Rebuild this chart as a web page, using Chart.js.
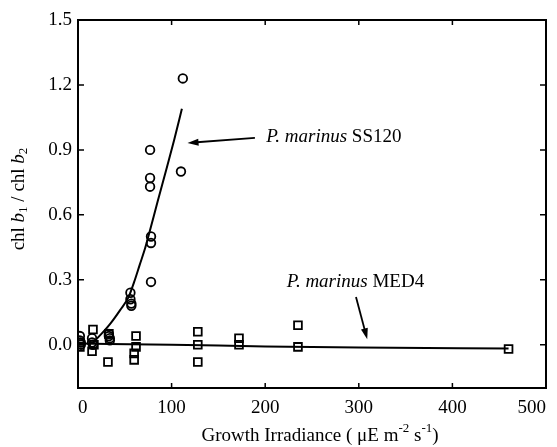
<!DOCTYPE html>
<html>
<head>
<meta charset="utf-8">
<script src="https://cdn.jsdelivr.net/npm/chart.js@4/dist/chart.umd.min.js"></script>
<style>
  html, body { margin: 0; padding: 0; background: #fff; }
  #wrap { width: 557px; height: 447px; }
</style>
</head>
<body>
<div id="wrap"><canvas id="chart" width="557" height="447"></canvas></div>
<script>
// ===== Data =====
// P. marinus SS120 measurements (circles)
const ss120X = [2, 2, 3, 3, 15, 15, 16, 33, 33, 34, 34, 56, 56, 57, 57, 77, 77, 77, 78, 78, 78, 110, 112];
const ss120Y = [0.04, 0.02, 0.01, 0.0, 0.03, 0.01, 0.0, 0.05, 0.04, 0.03, 0.02, 0.24, 0.21, 0.19, 0.18, 0.90, 0.77, 0.73, 0.50, 0.47, 0.29, 0.80, 1.23];

// P. marinus MED4 measurements (squares)
const med4X = [2, 2, 16, 15, 17, 33, 32, 62, 62, 60, 60, 128, 128, 128, 172, 172, 235, 235, 460];
const med4Y = [0.01, -0.01, 0.07, -0.03, 0.0, 0.05, -0.08, 0.04, -0.01, -0.04, -0.07, 0.06, 0.0, -0.08, 0.03, 0.0, 0.09, -0.01, -0.02];

// fitted curves
const ss120FitX = [16, 25, 35, 45, 54, 60, 66, 72, 77, 85, 95, 103, 111];
const ss120FitY = [0.01, 0.05, 0.10, 0.16, 0.22, 0.29, 0.37, 0.45, 0.53, 0.66, 0.82, 0.95, 1.09];
const med4FitX = [0, 100, 200, 300, 460];
const med4FitY = [0.005, 0.0, -0.008, -0.013, -0.018];

// axes
const xTicks = [0, 100, 200, 300, 400, 500];
const yTicks = [0.0, 0.3, 0.6, 0.9, 1.2, 1.5];

// annotation arrows, in data units: [tailX, tailY, headX, headY]
const ss120Arrow = [189, 0.955, 117, 0.932];
const med4Arrow = [297, 0.22, 309, 0.025];

const toPts = (xs, ys) => xs.map((x, i) => ({ x: x, y: ys[i] }));

const FONT = '"Liberation Serif", "DejaVu Serif", serif';

// ===== Rich text helper =====
function richWidth(ctx, parts) {
  let w = 0;
  parts.forEach(p => {
    ctx.font = (p.italic ? 'italic ' : '') + (p.small ? '13px ' : '19px ') + FONT;
    w += ctx.measureText(p.t).width;
  });
  return w;
}

function drawRich(ctx, parts, x, y) {
  let cx = x;
  parts.forEach(p => {
    ctx.font = (p.italic ? 'italic ' : '') + (p.small ? '13px ' : '19px ') + FONT;
    let dy = 0;
    if (p.sub) dy = 5;
    if (p.sup) dy = -7;
    ctx.fillText(p.t, cx, y + dy);
    cx += ctx.measureText(p.t).width;
  });
}

function arrow(ctx, xs, ys, a) {
  const x1 = xs.getPixelForValue(a[0]), y1 = ys.getPixelForValue(a[1]);
  const x2 = xs.getPixelForValue(a[2]), y2 = ys.getPixelForValue(a[3]);
  const ang = Math.atan2(y2 - y1, x2 - x1);
  ctx.lineWidth = 1.8;
  ctx.beginPath();
  ctx.moveTo(x1, y1);
  ctx.lineTo(x2 - 6 * Math.cos(ang), y2 - 6 * Math.sin(ang));
  ctx.stroke();
  ctx.beginPath();
  ctx.moveTo(x2, y2);
  ctx.lineTo(x2 - 11 * Math.cos(ang) + 3.5 * Math.sin(ang), y2 - 11 * Math.sin(ang) - 3.5 * Math.cos(ang));
  ctx.lineTo(x2 - 11 * Math.cos(ang) - 3.5 * Math.sin(ang), y2 - 11 * Math.sin(ang) + 3.5 * Math.cos(ang));
  ctx.closePath();
  ctx.fill();
}

// ===== Frame, inward ticks, titles, labels =====
const framePlugin = {
  id: 'frame',
  afterDraw(chart) {
    const ctx = chart.ctx;
    const a = chart.chartArea;
    const xs = chart.scales.x, ys = chart.scales.y;
    ctx.save();
    ctx.strokeStyle = '#000';
    ctx.fillStyle = '#000';
    ctx.lineWidth = 2;
    ctx.strokeRect(a.left, a.top, a.right - a.left, a.bottom - a.top);

    ctx.lineWidth = 1.5;
    ctx.beginPath();
    xTicks.slice(1, -1).forEach(v => {
      const px = xs.getPixelForValue(v);
      ctx.moveTo(px, a.bottom); ctx.lineTo(px, a.bottom - 5);
      ctx.moveTo(px, a.top); ctx.lineTo(px, a.top + 5);
    });
    yTicks.slice(0, -1).forEach(v => {
      const py = ys.getPixelForValue(v);
      ctx.moveTo(a.left, py); ctx.lineTo(a.left + 6, py);
      ctx.moveTo(a.right, py); ctx.lineTo(a.right - 6, py);
    });
    ctx.stroke();

    ctx.textBaseline = 'middle';
    ctx.textAlign = 'left';

    // x title
    const xt = [
      { t: 'Growth Irradiance ( \u03bcE m' },
      { t: '-2', small: true, sup: true },
      { t: ' s' },
      { t: '-1', small: true, sup: true },
      { t: ')' }
    ];
    drawRich(ctx, xt, (a.left + a.right) / 2 + 8 - richWidth(ctx, xt) / 2, 436);

    // y title (rotated)
    const yt = [
      { t: 'chl ' }, { t: 'b', italic: true }, { t: '1', small: true, sub: true },
      { t: ' / chl ' }, { t: 'b', italic: true }, { t: '2', small: true, sub: true }
    ];
    ctx.save();
    ctx.translate(19, 199);
    ctx.rotate(-Math.PI / 2);
    drawRich(ctx, yt, -richWidth(ctx, yt) / 2, 0);
    ctx.restore();

    // series labels
    drawRich(ctx, [{ t: 'P. marinus', italic: true }, { t: ' SS120' }],
      xs.getPixelForValue(201), ys.getPixelForValue(0.96));
    drawRich(ctx, [{ t: 'P. marinus', italic: true }, { t: ' MED4' }],
      xs.getPixelForValue(223), ys.getPixelForValue(0.29));

    arrow(ctx, xs, ys, ss120Arrow);
    arrow(ctx, xs, ys, med4Arrow);
    ctx.restore();
  }
};

new Chart(document.getElementById('chart'), {
  type: 'scatter',
  data: {
    datasets: [
      {
        label: 'SS120 fit',
        data: toPts(ss120FitX, ss120FitY),
        showLine: true,
        borderColor: '#000',
        borderWidth: 2,
        pointRadius: 0,
        cubicInterpolationMode: 'monotone'
      },
      {
        label: 'MED4 fit',
        data: toPts(med4FitX, med4FitY),
        showLine: true,
        borderColor: '#000',
        borderWidth: 2,
        pointRadius: 0,
        cubicInterpolationMode: 'monotone'
      },
      {
        label: 'P. marinus SS120',
        data: toPts(ss120X, ss120Y),
        pointStyle: 'circle',
        pointRadius: 4.3,
        borderColor: '#000',
        backgroundColor: 'rgba(0,0,0,0)',
        borderWidth: 1.8
      },
      {
        label: 'P. marinus MED4',
        data: toPts(med4X, med4Y),
        pointStyle: 'rect',
        pointRadius: 5.5,
        borderColor: '#000',
        backgroundColor: 'rgba(0,0,0,0)',
        borderWidth: 1.8
      }
    ]
  },
  options: {
    responsive: false,
    animation: false,
    layout: { padding: { top: 20, right: 11, left: 0, bottom: 0 } },
    plugins: { legend: { display: false }, tooltip: { enabled: false } },
    scales: {
      x: {
        type: 'linear',
        min: 0,
        max: 500,
        afterBuildTicks: s => { s.ticks = xTicks.map(v => ({ value: v })); },
        afterFit: s => { s.height = 59; },
        grid: { display: false, drawTicks: false },
        border: { display: false },
        ticks: {
          align: 'inner',
          padding: 9,
          color: '#000',
          font: { family: FONT, size: 19 },
          callback: v => String(v)
        }
      },
      y: {
        type: 'linear',
        min: -0.2,
        max: 1.5,
        afterBuildTicks: s => { s.ticks = yTicks.map(v => ({ value: v })); },
        afterFit: s => { s.width = 78; },
        grid: { display: false, drawTicks: false },
        border: { display: false },
        ticks: {
          padding: 6,
          color: '#000',
          font: { family: FONT, size: 19 },
          callback: v => v.toFixed(1)
        }
      }
    }
  },
  plugins: [framePlugin]
});
</script>
</body>
</html>
